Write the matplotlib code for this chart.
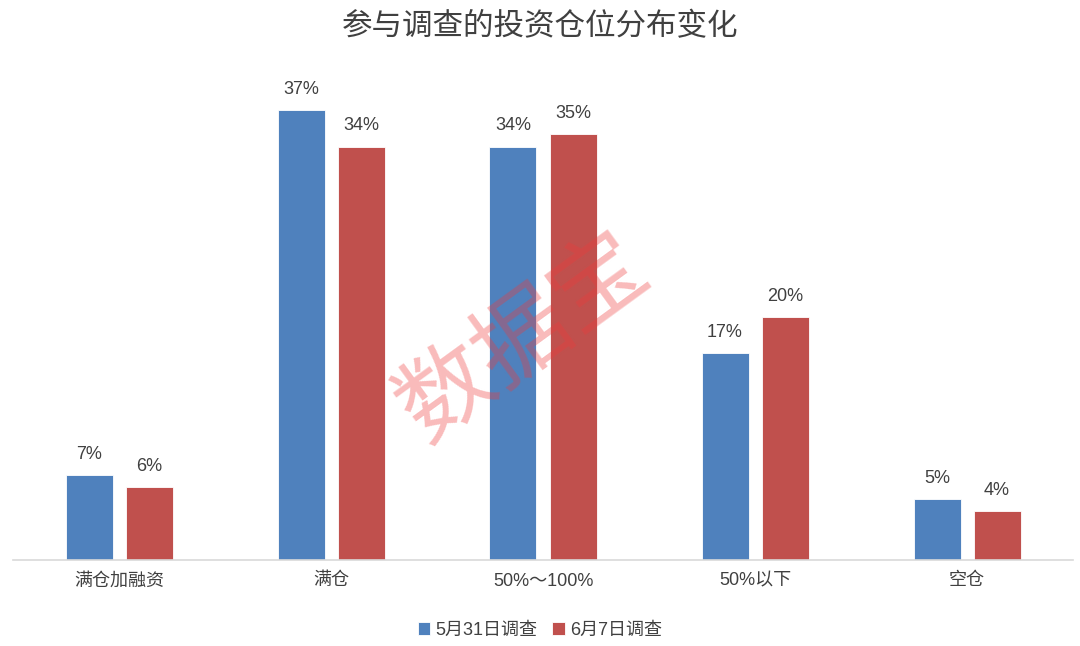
import matplotlib.pyplot as plt
import numpy as np

plt.rcParams['font.family'] = ['Liberation Sans', 'Noto Sans CJK SC', 'DejaVu Sans']

categories = ['满仓加融资', '满仓', '50%～100%', '50%以下', '空仓']
series_names = ['5月31日调查', '6月7日调查']
may31 = [7, 37, 34, 17, 5]
jun7 = [6, 34, 35, 20, 4]
colors = ['#4F81BD', '#C0504D']

W, H = 1080, 646
fig = plt.figure(figsize=(W / 100, H / 100), dpi=100)
ax = fig.add_axes([13 / W, (H - 560) / H, 1060 / W, 480 / H])

x = np.arange(len(categories))
bw = 47 / 212
off = 30 / 212
for vals, c, sgn, name in zip([may31, jun7], colors, [-1, 1], series_names):
    bars = ax.bar(x + sgn * off, vals, width=bw, color=c, label=name,
                  edgecolor='white', linewidth=0.6)
    for b, v in zip(bars, vals):
        ax.text(b.get_x() + b.get_width() / 2, v + 1.0, f'{v}%',
                ha='center', va='bottom', fontsize=13, color='#404040')

ax.set_xlim(-0.5, len(categories) - 0.5)
ax.set_ylim(0, 39.47)
ax.set_yticks([])
ax.set_xticks(x)
ax.set_xticklabels(categories, fontsize=13, color='#404040')
ax.tick_params(axis='x', length=0, pad=9)
for s in ['top', 'right', 'left']:
    ax.spines[s].set_visible(False)
ax.spines['bottom'].set_color('#D9D9D9')
ax.spines['bottom'].set_linewidth(1.2)

fig.text(0.5, 1 - 27 / H, '参与调查的投资仓位分布变化', ha='center', va='center',
         fontsize=22, color='#404040')

fig.legend(loc='center', bbox_to_anchor=(0.5, 1 - 630 / H), ncol=2, frameon=False,
           fontsize=13, handlelength=0.7, handleheight=0.7, handletextpad=0.3,
           columnspacing=0.8, labelcolor='#404040')

# watermark
fig.text(525 / W, 1 - 340 / H, '数据宝', ha='center', va='center', rotation=36,
         fontsize=68, color='#EE3B3B', alpha=0.35)

fig.savefig('out.png', dpi=100)
